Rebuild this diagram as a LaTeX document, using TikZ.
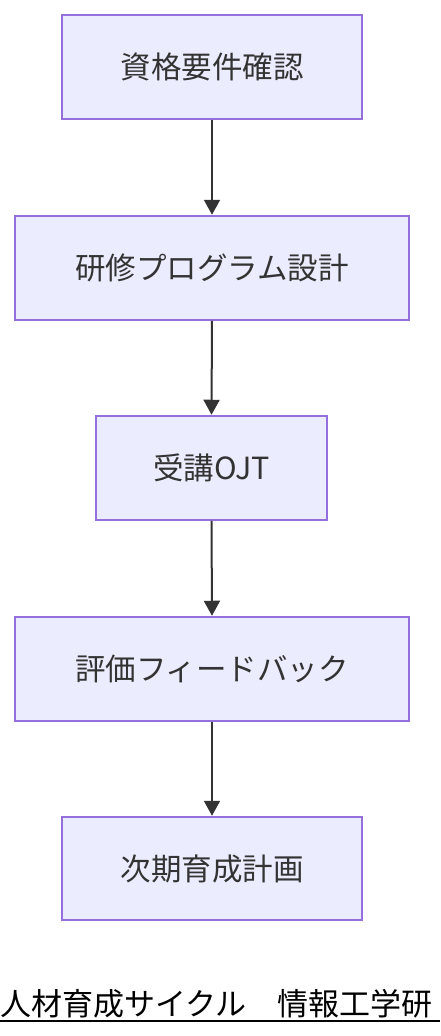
\documentclass[tikz,border=0pt]{standalone}
\usepackage{fontspec}
\newfontfamily\cjk{Noto Sans CJK JP}
\usetikzlibrary{arrows.meta}
\definecolor{nodefill}{HTML}{ECECFF}
\definecolor{nodeline}{HTML}{9370DB}
\definecolor{txt}{HTML}{333333}
\tikzset{
  stepbox/.style={draw=nodeline, fill=nodefill, line width=1.5pt, inner sep=0pt,
    text=txt, font=\cjk\fontsize{30.5}{36}\selectfont, anchor=center},
  flow/.style={draw=txt, line width=2pt, -{Triangle[length=15pt,width=16pt]}, shorten >=0.5pt}
}
\begin{document}
\begin{tikzpicture}[x=1pt,y=-1pt]
\useasboundingbox (0,0) rectangle (440,1036);
\node[stepbox, minimum width=300pt, minimum height=104pt] (a) at (212,67) {資格要件確認};
\node[stepbox, minimum width=394pt, minimum height=104pt] (b) at (212,268) {研修プログラム設計};
\node[stepbox, minimum width=231pt, minimum height=104pt] (c) at (211.5,468) {受講OJT};
\node[stepbox, minimum width=394pt, minimum height=104pt] (d) at (212,669) {評価フィードバック};
\node[stepbox, minimum width=300pt, minimum height=103pt] (e) at (212,868.5) {次期育成計画};
\draw[flow] (a.south) -- (b.north);
\draw[flow] (b.south) -- (c.north);
\draw[flow] (c.south) -- (d.north);
\draw[flow] (d.south) -- (e.north);
\node[anchor=base west, inner sep=0pt, font=\cjk\fontsize{31}{36}\selectfont, text=black] (t) at (0,1015) {人材育成サイクル　情報工学研};
\draw[line width=2pt, black] (0,1021) -- (440,1021);
\end{tikzpicture}
\end{document}
